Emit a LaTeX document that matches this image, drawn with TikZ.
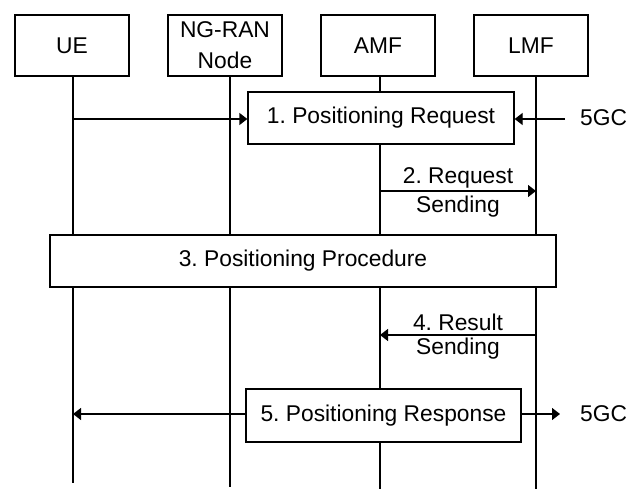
\documentclass[tikz,border=0pt]{standalone}
\usepackage{fontspec}
\setmainfont{Liberation Sans}
\usetikzlibrary{arrows.meta}
\frenchspacing
\tikzset{
  every node/.style={font=\fontsize{22.8}{27}\selectfont, inner sep=0pt},
  ent/.style={draw, line width=1.3pt, fill=white, minimum width=114, minimum height=61, align=center},
  proc/.style={draw, line width=1.3pt, fill=white, minimum height=52},
  life/.style={line width=1.3pt},
  msg/.style={line width=1.3pt, -{Triangle[length=8pt,width=12pt]}}
}
\begin{document}
\begin{tikzpicture}[x=1pt,y=-1pt]
\useasboundingbox (0,0) rectangle (629,489);
% entities
\node[ent] (ue)  at (72,45.5) {UE};
\node[ent, font=\fontsize{22.8}{31}\selectfont] (ran) at (225,45.5) {NG-RAN\\Node};
\node[ent] (amf) at (378,45.5) {AMF};
\node[ent] (lmf) at (531,45.5) {LMF};
% lifeline ends
\coordinate (ueT) at (73,76);   \coordinate (ueB) at (73,483);
\coordinate (ranT) at (230,76); \coordinate (ranB) at (230,487);
\coordinate (amfT) at (380,76); \coordinate (amfB) at (380,489);
\coordinate (lmfT) at (536,76); \coordinate (lmfB) at (536,489);
\draw[life] (ueT) -- (ueB);
\draw[life] (ranT) -- (ranB);
\draw[life] (amfT) -- (amfB);
\draw[life] (lmfT) -- (lmfB);
% step 1
\node[proc, minimum width=266] (p1) at (381,118) {1. Positioning Request};
\coordinate (ue1) at (73,119);
\draw[msg] (ue1) -- (ue1 -| p1.west);
\node[anchor=west] (gc1) at (580,118) {5GC};
\coordinate (g1) at (565,119);
\draw[msg] (g1) -- (g1 -| p1.east);
% step 2
\coordinate (a2) at (380,191);
\coordinate (l2) at (536,191);
\draw[msg] (a2) -- (l2);
\node (t2a) at (458,178) {2. Request};
\node (t2b) at (458,207) {Sending};
% step 3
\node[proc, minimum width=506] (p3) at (303,261) {3. Positioning Procedure};
% step 4
\coordinate (l4) at (536,335);
\coordinate (a4) at (380,335);
\draw[msg] (l4) -- (a4);
\node (t4a) at (458,322) {4. Result};
\node (t4b) at (458,349) {Sending};
% step 5
\node[proc, minimum width=275, minimum height=53] (p5) at (383.5,415.5) {5. Positioning Response};
\coordinate (ue5) at (73,414);
\coordinate (g5) at (560,414);
\draw[msg] (ue5 -| p5.west) -- (ue5);
\draw[msg] (ue5 -| p5.east) -- (g5);
\node[anchor=west] (gc5) at (580,414) {5GC};
\end{tikzpicture}
\end{document}
